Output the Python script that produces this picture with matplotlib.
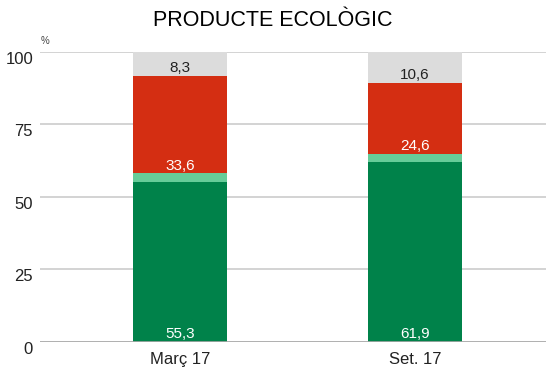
import matplotlib.pyplot as plt
import numpy as np

plt.rcParams['font.family'] = ['Liberation Sans', 'DejaVu Sans']

periods = ["Març 17", "Set. 17"]
dark_green = [55.3, 61.9]
light_green = [2.8, 2.9]
red = [33.6, 24.6]
grey = [8.3, 10.6]

segments = [
    (dark_green, "#00824a", "white"),
    (light_green, "#66cc99", None),
    (red, "#d42e12", "white"),
    (grey, "#dcdcdc", "#222222"),
]

fig = plt.figure(figsize=(5.46, 3.70), dpi=100)
ax = fig.add_axes([0.0733, 0.0757, 0.9267, 0.7838])

x = np.arange(len(periods))
bottom = np.zeros(len(periods))
for values, color, label_color in segments:
    ax.bar(x, values, 0.4, bottom=bottom, color=color, zorder=3)
    if label_color:
        for xi, b, v in zip(x, bottom, values):
            ax.text(xi, b + 0.3, f"{v:.1f}".replace(".", ","), ha="center",
                    va="bottom", color=label_color, fontsize=11, zorder=4)
    bottom = bottom + np.array(values)

ax.set_xlim(-0.596, 1.557)
ax.set_ylim(0, 100)
ax.set_yticks([0, 25, 50, 75, 100])
ax.set_xticks(x)
ax.set_xticklabels(periods)
ax.grid(axis="y", color="#cccccc", linewidth=1.2, zorder=0)
ax.tick_params(length=0, labelsize=12, colors="#222222")
ax.tick_params(axis="x", pad=7)
ax.tick_params(axis="y", pad=5)
for lbl in ax.get_yticklabels():
    lbl.set_va("top")
for s in ax.spines.values():
    s.set_visible(False)
ax.axhline(0, color="#aaaaaa", linewidth=1.2, zorder=5)

fig.text(0.5, 0.945, "PRODUCTE ECOLÒGIC", ha="center", va="center", fontsize=15.5)
fig.text(0.082, 0.888, "%", ha="center", va="center", fontsize=7, color="#444444")

fig.savefig("out.png", dpi=100)
